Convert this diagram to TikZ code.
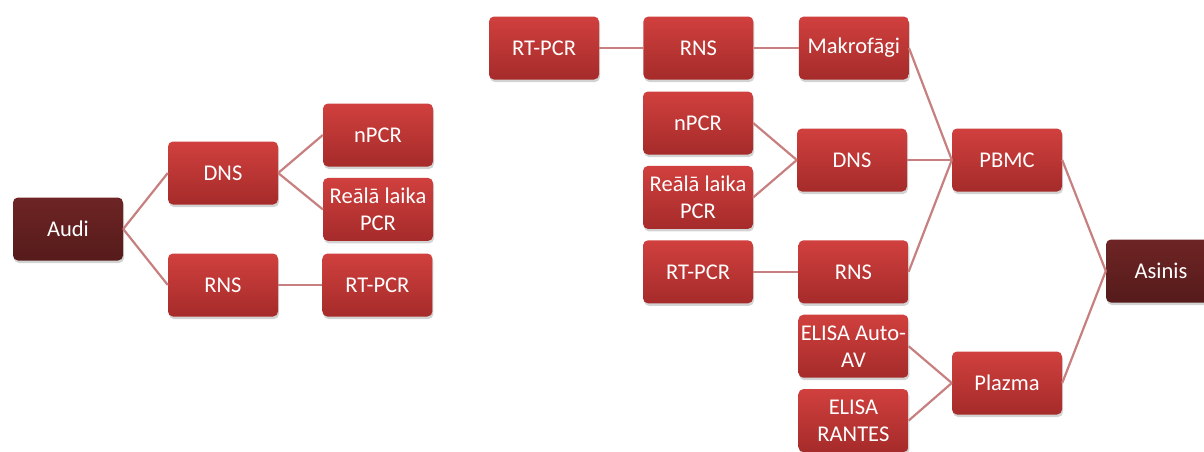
\documentclass[tikz,border=0pt]{standalone}
\usepackage{fontspec}
\setmainfont{Carlito}
\usetikzlibrary{positioning, shadows}
\definecolor{boxtop}{HTML}{D0403E}
\definecolor{boxbot}{HTML}{A52B2A}
\definecolor{darktop}{HTML}{6E2424}
\definecolor{darkbot}{HTML}{561B1B}
\definecolor{linkcol}{HTML}{C77F7F}
\tikzset{%
  box/.style={rectangle, rounded corners=5pt, top color=boxtop, bottom color=boxbot,
    text=white, align=center, minimum width=110pt, minimum height=63pt, inner sep=0pt,
    font=\fontsize{22.5}{27}\selectfont,
    drop shadow={shadow xshift=1pt, shadow yshift=-2.5pt, opacity=0.35}},
  dark/.style={box, top color=darktop, bottom color=darkbot}, % the two roots
  link/.style={draw=linkcol, line width=2.2pt}
}

\begin{document}
\begin{tikzpicture}[x=1pt, y=-1pt, node distance=11pt]
\useasboundingbox (0,0) rectangle (1204,451);

% Audi
\node[dark] (a0) at (68,229) {Audi};
\node[box] (b0) at (223,173) {DNS};
\node[box] (b1) at (223,285) {RNS};
\node[box] (c0) at (378,135) {nPCR};
\node[box, below=of c0] (c1) {Reālā laika\\PCR};
\node[box, right=44pt of b1] (c2) {RT-PCR};

% Asinis
\node[box] (p0) at (544,48) {RT-PCR};
\node[box, right=44pt of p0] (p1) {RNS};
\node[box, right=45pt of p1] (p2) {Makrofāgi};
\node[box] (q0) at (698,123) {nPCR};
\node[box, below=of q0] (q1) {Reālā laika\\PCR};
\node[box, below=of q1] (q2) {RT-PCR};
\node[box] (s0) at (852,160) {DNS};
\node[box, right=45pt of q2] (s1) {RNS};
\node[box, below=of s1] (s2) {ELISA Auto-\\AV};
\node[box, below=of s2] (s3) {ELISA\\RANTES};
\node[box] (t0) at (1007,160) {PBMC};
\node[box] (t1) at (1007,383) {Plazma};
\node[dark] (u0) at (1161,271) {Asinis};

\draw[link] (a0.east) -- (b0.west);
\draw[link] (a0.east) -- (b1.west);
\draw[link] (b0.east) -- (c0.west);
\draw[link] (b0.east) -- (c1.west);
\draw[link] (b1.east) -- (c2.west);

\draw[link] (p0.east) -- (p1.west);
\draw[link] (p1.east) -- (p2.west);
\draw[link] (q0.east) -- (s0.west);
\draw[link] (q1.east) -- (s0.west);
\draw[link] (q2.east) -- (s1.west);
\draw[link] (p2.east) -- (t0.west);
\draw[link] (s0.east) -- (t0.west);
\draw[link] (s1.east) -- (t0.west);
\draw[link] (s2.east) -- (t1.west);
\draw[link] (s3.east) -- (t1.west);
\draw[link] (t0.east) -- (u0.west);
\draw[link] (t1.east) -- (u0.west);

\end{tikzpicture}
\end{document}
